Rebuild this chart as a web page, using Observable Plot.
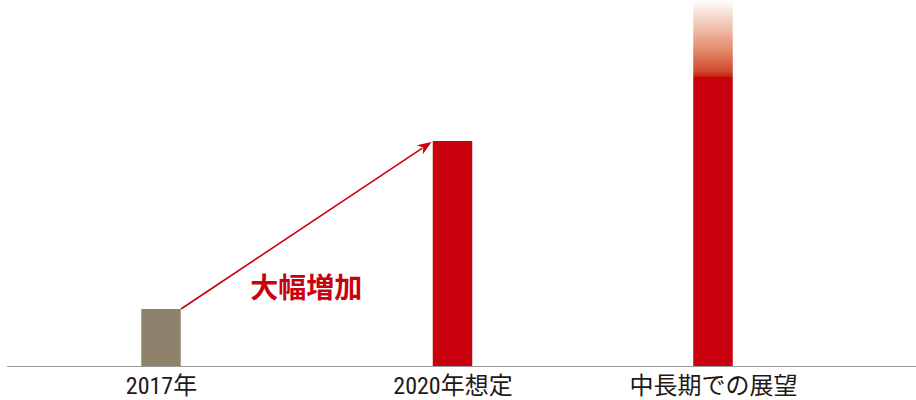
<!DOCTYPE html>
<html><head><meta charset="utf-8">
<script src="https://cdn.jsdelivr.net/npm/d3@7"></script>
<script src="https://cdn.jsdelivr.net/npm/@observablehq/plot@0.6"></script>
<style>
body{margin:0;background:#fff}
#chart svg{display:block}
</style>
</head><body><div id="chart"></div>
<script>
// ---- data ----
const categories = ["2017年", "2020年想定", "中長期での展望"];
const values = [57, 225, 289];           // solid bar heights
const outlookTop = [null, null, 366];    // faded outlook extension (中長期)
const annotation = "大幅増加";

// ---- styles ----
const barColors = ["#8f826c", "#c9000d", "#c9000d"];
const red = "#c9000d";
const textColor = "#231815";
const labelFont = "'Liberation Sans Narrow','Arial Narrow','Roboto Condensed','Noto Sans CJK JP',sans-serif";
const barWidth = 40;
const midShift = 15.5;

const rows = categories.map((c, i) => ({cat: c, value: values[i], top: outlookTop[i], color: barColors[i], i}));
const W = 916, H = 400;
const step = 276.5;
const inset = (step - barWidth) / 2;

const common = (extra) => Object.assign({x: "cat", insetLeft: inset, insetRight: inset}, extra);

const chart = Plot.plot({
  width: W, height: H,
  marginTop: 0, marginBottom: 34, marginLeft: 7, marginRight: 0,
  x: {domain: categories, paddingInner: 0, paddingOuter: 0.14375, align: 0.198, axis: null},
  y: {domain: [0, 366], axis: null},
  style: {background: "#fff", overflow: "visible"},
  marks: [
    Plot.barY(rows, common({filter: d => d.i !== 1, y1: 0, y2: "value", fill: "color"})),
    Plot.barY(rows, common({filter: d => d.i === 1, y1: 0, y2: "value", fill: "color", dx: midShift})),
    Plot.barY(rows, common({filter: d => d.top != null, y1: "value", y2: "top", fill: "url(#fade)"})),
    Plot.ruleY([0], {stroke: "#9a9a9a", strokeWidth: 1}),
    Plot.text(rows, {filter: d => d.i !== 1, x: "cat", y: 0, text: "cat", dy: 20, fontSize: 24, fill: textColor, fontFamily: labelFont}),
    Plot.text(rows, {filter: d => d.i === 1, x: "cat", y: 0, text: "cat", dy: 20, dx: midShift, fontSize: 24, fill: textColor, fontFamily: labelFont})
  ],
  color: {type: "identity"}
});

const svg = d3.select(chart);
const defs = svg.insert("defs", ":first-child");
const grad = defs.append("linearGradient").attr("id", "fade")
  .attr("x1", 0).attr("y1", 0).attr("x2", 0).attr("y2", 1);
[[0, "#ffffff"], [0.3, "#f3cbb9"], [0.65, "#e38a6c"], [0.92, "#d04a30"], [1, "#c9200f"]]
  .forEach(([o, c]) => grad.append("stop").attr("offset", o).attr("stop-color", c));

// arrow from top-right of first bar to top-left of second bar
const X = chart.scale("x"), Y = chart.scale("y");
const bw = X.bandwidth;
const ax0 = X.apply(categories[0]) + bw / 2 + barWidth / 2;
const ay0 = Y.apply(values[0]);
const ax1 = X.apply(categories[1]) + bw / 2 + midShift - barWidth / 2 - 1;
const ay1 = Y.apply(values[1]) + 1;
const ang = Math.atan2(ay1 - ay0, ax1 - ax0);
const L = 14, Wd = 5.5;
const bx = ax1 - L * Math.cos(ang), by = ay1 - L * Math.sin(ang);
const nx = -Math.sin(ang), ny = Math.cos(ang);
const g = svg.append("g");
g.append("line").attr("x1", ax0).attr("y1", ay0)
  .attr("x2", ax1 - (L - 3) * Math.cos(ang)).attr("y2", ay1 - (L - 3) * Math.sin(ang))
  .attr("stroke", red).attr("stroke-width", 1.6);
const nb = 10;
g.append("path").attr("d",
  `M${ax1},${ay1}L${bx + nx * Wd},${by + ny * Wd}L${ax1 - nb * Math.cos(ang)},${ay1 - nb * Math.sin(ang)}L${bx - nx * Wd},${by - ny * Wd}Z`)
  .attr("fill", red);
g.append("text")
  .attr("x", (ax0 + ax1) / 2).attr("y", (ay0 + ay1) / 2 + 60)
  .attr("text-anchor", "middle").attr("dominant-baseline", "central")
  .attr("font-family", "'Noto Sans CJK JP',sans-serif").attr("font-weight", 700)
  .attr("font-size", 28).attr("fill", red)
  .text(annotation);

document.getElementById("chart").append(chart);
</script>
</body></html>
